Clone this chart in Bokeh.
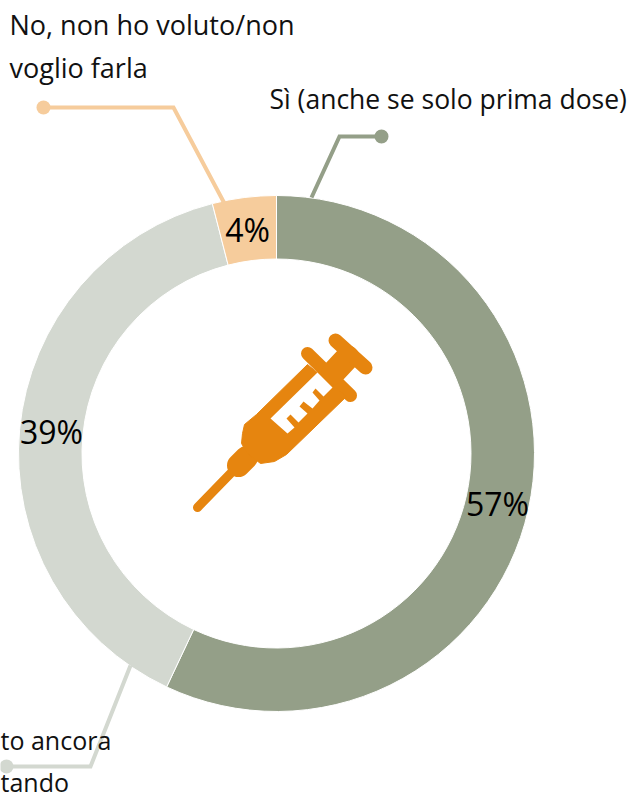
from bokeh.plotting import figure
from bokeh.embed import file_html
from bokeh.resources import INLINE
from bokeh.core.properties import value
from bokeh.models import Range1d
import math

values = [57, 39, 4]
labels = ["57%", "39%", "4%"]
colors = ["#949f88", "#d3d8d0", "#f6cc9c"]
FONT = "Open Sans"
W, H = 635, 798
CX, CY = 276, 453
R_OUT, R_IN = 258, 194.5

p = figure(width=W, height=H, output_backend="svg", toolbar_location=None,
           x_range=Range1d(0, W), y_range=Range1d(H, 0), min_border=0,
           outline_line_color=None)
p.axis.visible = False
p.grid.visible = False

cum = 0
for v, c in zip(values, colors):
    a0 = -math.pi / 2 + cum / 100 * 2 * math.pi
    cum += v
    a1 = -math.pi / 2 + cum / 100 * 2 * math.pi
    p.annular_wedge(x=CX, y=CY, inner_radius=R_IN, outer_radius=R_OUT,
                    start_angle=-a0, end_angle=-a1, direction="clock",
                    fill_color=c, line_color="#ffffff", line_width=1)

leaders = [([311, 339, 381], [197, 136, 136], colors[0]),
           ([130, 90, 6], [665, 766, 766], colors[1]),
           ([224, 173, 43], [203, 107, 107], colors[2])]
for xs, ys, c in leaders:
    p.line(xs, ys, line_color=c, line_width=4, line_join="miter")
    p.scatter([xs[-1]], [ys[-1]], size=14, marker="circle", fill_color=c, line_color=None)

lab_x = [497, 51, 247]
lab_y = [503, 431, 229]
for x, y, t in zip(lab_x, lab_y, labels):
    p.text([x], [y], text=[t], text_font=value(FONT), text_font_size="32px",
           text_align="center", text_baseline="middle", text_color="#000000")

texts = [(269, 98, "Sì (anche se solo prima dose)", "26.5px"),
         (9, 24, "No, non ho voluto/non", "27px"),
         (9, 67, "voglio farla", "27px"),
         (0, 739, "to ancora", "25px"),
         (0, 781, "tando", "25px")]
for x, y, t, s in texts:
    p.text([x], [y], text=[t], text_font=value(FONT), text_font_size=s,
           text_align="left", text_baseline="middle", text_color="#111111")

ORANGE = "#e6850f"
for xs, ys, w in [([197, 230], [507, 473], 9),
                  ([238, 246], [465, 457], 23),
                  ([307, 350], [353, 395], 13),
                  ([333, 347], [372, 357], 24),
                  ([335, 365], [340, 367], 14)]:
    p.line(xs, ys, line_color=ORANGE, line_width=w, line_cap="round")

bx = [242, 244, 256, 307, 346, 286, 274, 260, 247, 241]
by = [433, 424, 414, 364, 396, 454, 461, 463, 453, 443]
p.patch(bx, by, fill_color=ORANGE, line_color=ORANGE, line_width=1)

wx = [270, 317, 332, 323, 315, 312, 319, 312, 303, 299, 307, 298, 290, 286, 294, 287]
wy = [418, 372, 387, 396, 388, 392, 400, 408, 401, 406, 413, 422, 414, 418, 427, 433]
p.patch(wx, wy, fill_color="#ffffff", line_color=None)

open("out.html", "w").write(file_html(p, INLINE))
